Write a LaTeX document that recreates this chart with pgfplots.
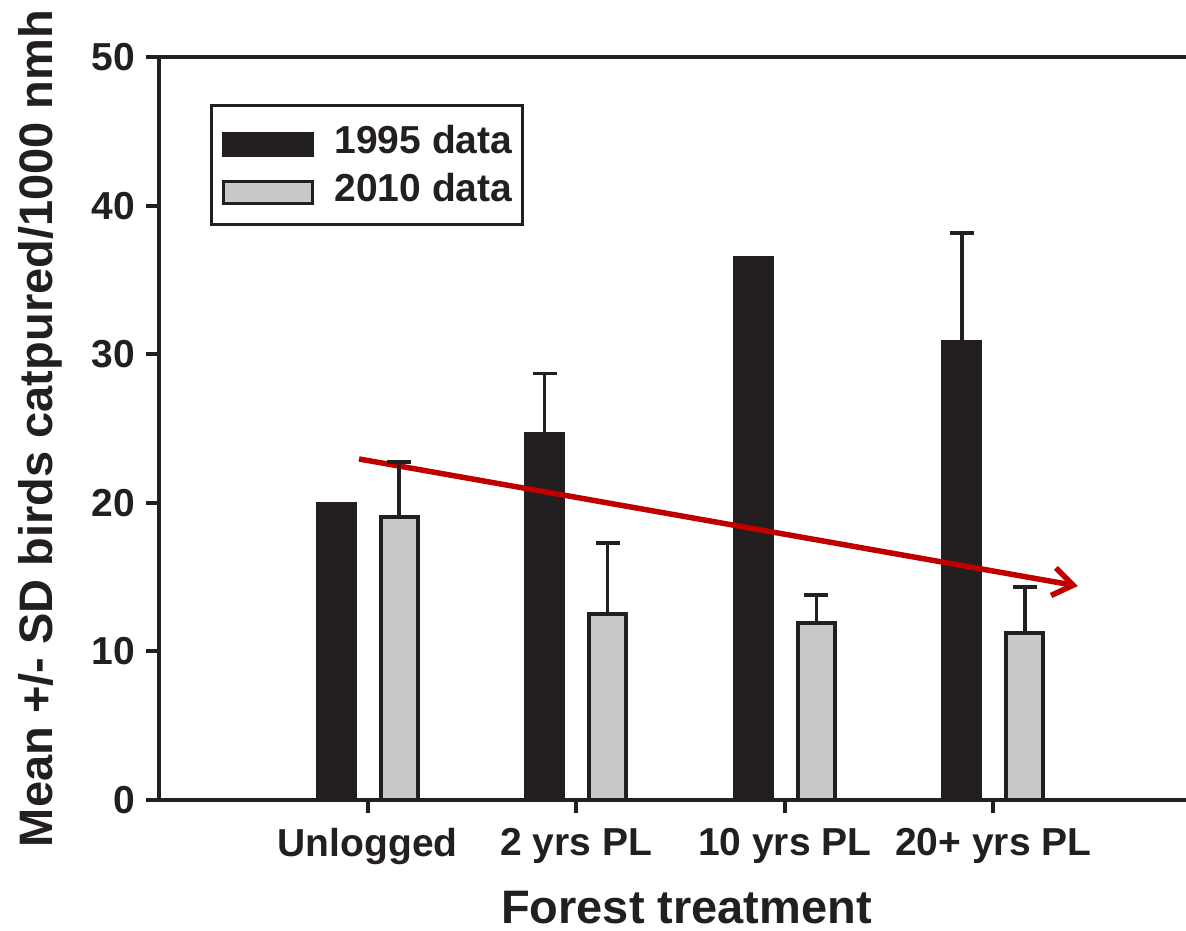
\documentclass[border=0pt]{standalone}
\usepackage{pgfplots}
\pgfplotsset{compat=1.18}
\usepackage{fontspec}
\setmainfont{Liberation Sans}
\usetikzlibrary{arrows.meta}
\definecolor{barblack}{HTML}{231F20}
\definecolor{bargray}{HTML}{C8C9CB}
\definecolor{arrowred}{HTML}{C00000}
\begin{document}
\begin{tikzpicture}
\begin{axis}[
  at={(0,0)}, anchor=south west,
  scale only axis, width=521.5pt, height=371.5pt,
  xmin=0, xmax=5, ymin=0, ymax=50,
  xtick={1,2,3,4},
  xticklabels={Unlogged, 2 yrs PL, 10 yrs PL, 20+ yrs PL},
  ytick={0,10,20,30,40,50},
  xtick pos=bottom, ytick pos=left,
  axis line style={line width=2pt, draw=barblack},
  tick style={line width=2pt, draw=barblack},
  tick align=outside, major tick length=6.5pt,
  /pgf/number format/assume math mode=true,
  ticklabel style={font=\bfseries\fontsize{19.5}{23}\selectfont, text=barblack},
  xticklabel style={yshift=-4pt},
  yticklabel style={xshift=-2pt},
  xlabel={Forest treatment},
  ylabel={Mean +/- SD birds catpured/1000 nmh},
  label style={font=\bfseries\fontsize{23.5}{27}\selectfont, text=barblack},
  xlabel style={at={(axis description cs:0.5,0)}, anchor=base, yshift=-61.5pt, xshift=3pt},
  ylabel style={at={(axis description cs:0,0.5)}, anchor=base, yshift=53pt},
  legend style={at={(0.049,0.937)}, anchor=north west, draw=barblack, line width=1.5pt,
    font=\bfseries\fontsize{19.5}{23}\selectfont, text=barblack,
    inner xsep=5pt, inner ysep=10pt, row sep=8pt, column sep=10.5pt,
    nodes={inner sep=0pt}},
  legend cell align=left,
  legend image code/.code={\draw[#1, line width=1.5pt] (0.75pt,-7.25pt) rectangle (45.25pt,3.75pt);},
]
\addplot[ybar, bar width=18.5pt, bar shift=0pt, fill=barblack, draw=barblack, line width=2pt,
  error bars/.cd, y dir=plus, y explicit,
  error bar style={line width=1.75pt, draw=barblack},
  error mark options={rotate=90, mark size=6pt, line width=1.75pt, draw=barblack}]
  coordinates {(0.849,19.9) +- (0,0) (1.849,24.6) +- (0,4.1) (2.849,36.5) +- (0,0) (3.849,30.8) +- (0,7.35)};
\addlegendentry{1995 data}
\addplot[forget plot, color=arrowred, line width=2.75pt, -{Straight Barb[length=10pt,width=14pt]}]
  coordinates {(0.959,22.95) (4.405,14.40)};
\addplot[ybar, bar width=18.5pt, bar shift=0pt, fill=bargray, draw=barblack, line width=2pt,
  error bars/.cd, y dir=plus, y explicit,
  error bar style={line width=1.75pt, draw=barblack},
  error mark options={rotate=90, mark size=6pt, line width=1.75pt, draw=barblack}]
  coordinates {(1.151,19.05) +- (0,3.7) (2.151,12.5) +- (0,4.8) (3.151,11.9) +- (0,1.9) (4.151,11.25) +- (0,3.1)};
\addlegendentry{2010 data}
\end{axis}
\pgfresetboundingbox
\path[use as bounding box] (-79.5pt,-65pt) rectangle (513.5pt,400pt);
\end{tikzpicture}
\end{document}
